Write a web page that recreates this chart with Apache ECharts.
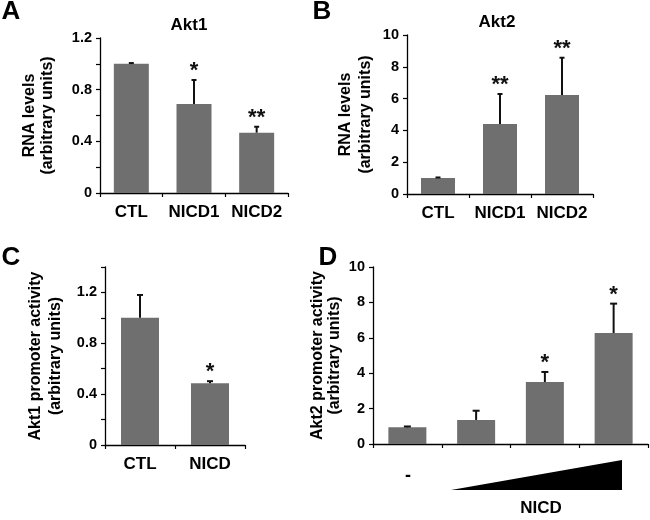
<!DOCTYPE html>
<html><head><meta charset="utf-8">
<script src="https://cdn.jsdelivr.net/npm/echarts@6/dist/echarts.min.js"></script>
<style>html,body{margin:0;padding:0;background:#fff}#c{width:650px;height:520px}</style>
</head><body><div id="c"></div>
<script>
// ---- data ----
const catsA = ['CTL', 'NICD1', 'NICD2'];
const valA = [1.0, 0.69, 0.467];
const errA = [0.006, 0.185, 0.046];
const sigA = ['', '*', '**'];

const catsB = ['CTL', 'NICD1', 'NICD2'];
const valB = [1.0, 4.40, 6.23];
const errB = [0.04, 1.89, 2.34];
const sigB = ['', '**', '**'];

const catsC = ['CTL', 'NICD'];
const valC = [1.0, 0.486];
const errC = [0.18, 0.016];
const sigC = ['', '*'];

const catsD = ['-', 'NICD 1', 'NICD 2', 'NICD 3'];
const valD = [0.94, 1.36, 3.50, 6.27];
const errD = [0.05, 0.52, 0.57, 1.66];
const sigD = ['', '', '*', '*'];

const ticksA = [0, 0.4, 0.8, 1.2];
const ticksC = [0, 0.4, 0.8, 1.2];

const FONT = 'Liberation Sans, Arial, sans-serif';
const BAR = '#6f6f6f';

function yAxis(gi, max, interval, name, gap, lh, shown) {
  return {
    type: 'value', gridIndex: gi, min: 0, max: max, interval: interval,
    axisLine: {show: true, lineStyle: {color: '#000', width: 1.3}},
    axisTick: {show: true, length: 4, lineStyle: {color: '#000', width: 1.2}},
    splitLine: {show: false},
    axisLabel: {
      color: '#000', fontSize: 14.5, fontWeight: 'bold', fontFamily: FONT, margin: 8,
      formatter: function (v) {
        if (shown) {
          for (const s of shown) if (Math.abs(s - v) < 1e-6) return String(s);
          return '';
        }
        return String(v);
      }
    },
    name: name, nameLocation: 'middle', nameGap: gap,
    nameTextStyle: {color: '#000', fontSize: 16, fontWeight: 'bold', fontFamily: FONT, lineHeight: lh}
  };
}
function xAxis(gi, cats, showLabels, fs) {
  return {
    type: 'category', gridIndex: gi, data: cats,
    axisLine: {show: true, lineStyle: {color: '#000', width: 1.3}},
    axisTick: {show: true, length: 4, alignWithLabel: false, interval: 0, lineStyle: {color: '#000', width: 1.2}},
    axisLabel: {show: showLabels, color: '#000', fontSize: fs, fontWeight: 'bold', fontFamily: FONT, margin: 11, interval: 0}
  };
}
function bars(gi, vals, w) {
  return {type: 'bar', xAxisIndex: gi, yAxisIndex: gi, data: vals, barWidth: w,
    itemStyle: {color: BAR}, animation: false, silent: true};
}
function errs(gi, vals, es, sigs, cap, starGap) {
  return {
    type: 'custom', xAxisIndex: gi, yAxisIndex: gi, animation: false, silent: true, z: 5,
    data: vals.map((v, i) => [i, v, v + es[i]]),
    renderItem: function (params, api) {
      const b = api.coord([api.value(0), api.value(1)]);
      const t = api.coord([api.value(0), api.value(2)]);
      const s = sigs[params.dataIndex];
      const ch = [
        {type: 'line', shape: {x1: b[0], y1: b[1], x2: t[0], y2: t[1]}, style: {stroke: '#111', lineWidth: 2}},
        {type: 'line', shape: {x1: t[0] - cap / 2, y1: t[1], x2: t[0] + cap / 2, y2: t[1]}, style: {stroke: '#111', lineWidth: 2}}
      ];
      if (s) ch.push({type: 'text', style: {text: s, x: t[0], y: t[1] - starGap, align: 'center', verticalAlign: 'middle',
        textAlign: 'center', textVerticalAlign: 'middle', font: 'bold 22px ' + FONT, fill: '#111'}});
      return {type: 'group', children: ch};
    }
  };
}
function txt(text, x, y, size, align) {
  return {type: 'text', style: {text: text, x: x, y: y, font: 'bold ' + size + 'px ' + FONT, fill: '#000',
    textAlign: align || 'center', textVerticalAlign: 'middle', align: align || 'center', verticalAlign: 'middle'}};
}

const chart = echarts.init(document.getElementById('c'), null, {renderer: 'canvas'});
chart.setOption({
  animation: false,
  textStyle: {fontFamily: FONT},
  grid: [
    {left: 100, top: 38, width: 188, height: 155},
    {left: 407, top: 35, width: 186, height: 159},
    {left: 105, top: 267, width: 140, height: 178},
    {left: 373, top: 267, width: 275, height: 177}
  ],
  xAxis: [xAxis(0, catsA, true, 17), xAxis(1, catsB, true, 17), xAxis(2, catsC, true, 17), xAxis(3, catsD, false, 17)],
  yAxis: [
    yAxis(0, 1.2, 0.2, 'RNA levels\n(arbitrary units)', 43, 18, ticksA),
    yAxis(1, 10, 2, 'RNA levels\n(arbitrary units)', 31, 20, null),
    yAxis(2, 1.4, 0.2, 'Akt1 promoter activity\n(arbitrary units)', 39, 20, ticksC),
    yAxis(3, 10, 2, 'Akt2 promoter activity\n(arbitrary units)', 30, 17, null)
  ],
  series: [
    bars(0, valA, 35), errs(0, valA, errA, sigA, 5, 9),
    bars(1, valB, 34), errs(1, valB, errB, sigB, 5, 9),
    bars(2, valC, 38), errs(2, valC, errC, sigC, 6, 9),
    bars(3, valD, 38), errs(3, valD, errD, sigD, 7, 9)
  ],
  graphic: [
    txt('A', 11, 12, 26), txt('B', 322, 12, 26), txt('C', 11, 258, 26), txt('D', 328, 258, 26),
    txt('Akt1', 189, 25, 17), txt('Akt2', 497, 22, 17),
    txt('-', 408, 476, 18),
    {type: 'polygon', shape: {points: [[451, 490], [622, 460], [622, 490]]}, style: {fill: '#000'}},
    txt('NICD', 541, 508, 17)
  ]
});
</script></body></html>
